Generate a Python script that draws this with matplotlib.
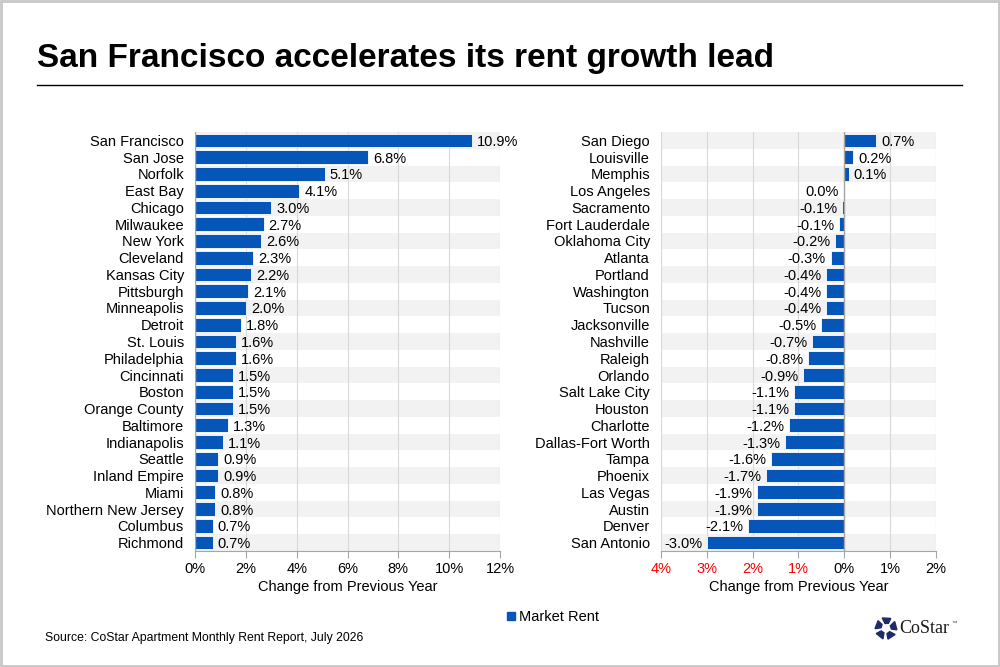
import matplotlib.pyplot as plt
from matplotlib.patches import Rectangle, Polygon
from matplotlib.lines import Line2D
import numpy as np

plt.rcParams['font.family'] = ['Liberation Sans', 'DejaVu Sans']

# left panel: metros with the strongest rent growth
left_metros = ['San Francisco', 'San Jose', 'Norfolk', 'East Bay', 'Chicago',
               'Milwaukee', 'New York', 'Cleveland', 'Kansas City', 'Pittsburgh',
               'Minneapolis', 'Detroit', 'St. Louis', 'Philadelphia', 'Cincinnati',
               'Boston', 'Orange County', 'Baltimore', 'Indianapolis', 'Seattle',
               'Inland Empire', 'Miami', 'Northern New Jersey', 'Columbus', 'Richmond']
left_values = [10.9, 6.8, 5.1, 4.1, 3.0, 2.7, 2.6, 2.3, 2.2, 2.1, 2.0, 1.8, 1.6,
               1.6, 1.5, 1.5, 1.5, 1.3, 1.1, 0.9, 0.9, 0.8, 0.8, 0.7, 0.7]

# right panel: metros with the weakest rent growth
right_metros = ['San Diego', 'Louisville', 'Memphis', 'Los Angeles', 'Sacramento',
                'Fort Lauderdale', 'Oklahoma City', 'Atlanta', 'Portland',
                'Washington', 'Tucson', 'Jacksonville', 'Nashville', 'Raleigh',
                'Orlando', 'Salt Lake City', 'Houston', 'Charlotte',
                'Dallas-Fort Worth', 'Tampa', 'Phoenix', 'Las Vegas', 'Austin',
                'Denver', 'San Antonio']
right_values = [0.7, 0.2, 0.1, -0.0, -0.05, -0.12, -0.2, -0.3, -0.4, -0.4, -0.4,
                -0.5, -0.7, -0.8, -0.9, -1.1, -1.1, -1.2, -1.3, -1.6, -1.7, -1.9,
                -1.9, -2.1, -3.0]
right_labels = ['0.7%', '0.2%', '0.1%', '0.0%', '-0.1%', '-0.1%', '-0.2%', '-0.3%',
                '-0.4%', '-0.4%', '-0.4%', '-0.5%', '-0.7%', '-0.8%', '-0.9%',
                '-1.1%', '-1.1%', '-1.2%', '-1.3%', '-1.6%', '-1.7%', '-1.9%',
                '-1.9%', '-2.1%', '-3.0%']

left_ticks = [0, 2, 4, 6, 8, 10, 12]
right_ticks = [-4, -3, -2, -1, 0, 1, 2]

BLUE = '#0656B9'
GRID = '#D9D9D9'
BAND = '#F2F2F2'
FS = 10.5

fig = plt.figure(figsize=(10, 6.67), dpi=100)


def style_axis(ax, names, xlim, ticks):
    n = len(names)
    y = np.arange(n)
    ax.set_xlim(*xlim)
    ax.set_ylim(n - 0.5, -0.5)
    for i in range(0, n, 2):
        ax.axhspan(i - 0.5, i + 0.5, color=BAND, zorder=0, lw=0)
    ax.set_xticks(ticks)
    ax.xaxis.grid(True, color=GRID, lw=0.8, zorder=0.5)
    ax.set_axisbelow(True)
    ax.set_yticks(y)
    ax.set_yticklabels(names, fontsize=FS)
    ax.tick_params(axis='y', length=0, pad=8)
    ax.tick_params(axis='x', length=5, color='#A6A6A6', labelsize=FS, pad=3)
    for s in ['top', 'right', 'left']:
        ax.spines[s].set_visible(False)
    ax.spines['bottom'].set_color('#A6A6A6')
    ax.set_xlabel('Change from Previous Year', fontsize=FS, labelpad=3)
    return y


# left panel
axl = fig.add_axes([0.195, 0.174, 0.305, 0.628])
y = style_axis(axl, left_metros, (0, 12), left_ticks)
axl.barh(y, left_values, height=0.82, color=BLUE, edgecolor='white', lw=0.6, zorder=2)
axl.axvline(0, color='#A6A6A6', lw=1, zorder=3)
axl.set_xticklabels([f'{t}%' for t in left_ticks])
for yi, v in zip(y, left_values):
    axl.text(v + 0.2, yi, f'{v:.1f}%', va='center_baseline', ha='left', fontsize=FS, zorder=4)

# right panel
axr = fig.add_axes([0.661, 0.174, 0.275, 0.628])
y = style_axis(axr, right_metros, (-4, 2), right_ticks)
axr.barh(y, right_values, height=0.82, color=BLUE, edgecolor='white', lw=0.6, zorder=2)
axr.axvline(0, color='#A6A6A6', lw=1, zorder=3)
axr.set_xticklabels([f'{abs(t)}%' for t in right_ticks])
for lab, t in zip(axr.get_xticklabels(), right_ticks):
    if t < 0:
        lab.set_color('#FF0000')
for yi, v, s in zip(y, right_values, right_labels):
    if v > 0:
        axr.text(v + 0.1, yi, s, va='center_baseline', ha='left', fontsize=FS, zorder=4)
    else:
        axr.text(min(v, -0.03) - 0.1, yi, s, va='center_baseline', ha='right',
                 fontsize=FS, zorder=4)

# title and rule
fig.text(0.037, 0.9, 'San Francisco accelerates its rent growth lead',
         fontsize=24, fontweight='bold', va='baseline')
fig.add_artist(Line2D([0.037, 0.962], [0.872, 0.872], color='black', lw=1))

# legend
handle = Line2D([], [], marker='s', ls='', color=BLUE, markersize=6)
fig.legend([handle], ['Market Rent'], loc='center', bbox_to_anchor=(0.552, 0.075),
           frameon=False, fontsize=FS, handletextpad=0.1, handlelength=0.8)

# source
fig.text(0.045, 0.043, 'Source: CoStar Apartment Monthly Rent Report, July 2026',
         fontsize=8.8, va='center')

# logo
cx, cy, r = 0.886, 0.058, 0.011
asp = 10 / 6.67
for k in range(5):
    a = np.pi / 2 + k * 2 * np.pi / 5
    pts = []
    for da, rr in [(-0.45, 1.0), (0.35, 1.0), (0.2, 0.45), (-0.45, 0.5)]:
        pts.append((cx + rr * r * np.cos(a + da), cy + rr * r * asp * np.sin(a + da)))
    fig.add_artist(Polygon(pts, closed=True, color='#1F2A6B', transform=fig.transFigure))
fig.text(0.899, 0.058, 'CoStar', fontsize=13, family=['Liberation Serif', 'DejaVu Serif'],
         va='center', color='#1A1A1A')
fig.text(0.951, 0.066, '™', fontsize=4, va='center', color='#444444')

# outer border
fig.add_artist(Rectangle((0.001, 0.0015), 0.998, 0.997, transform=fig.transFigure,
                         fill=False, edgecolor='#C8C8C8', lw=2))

fig.savefig('out.png', dpi=100)
